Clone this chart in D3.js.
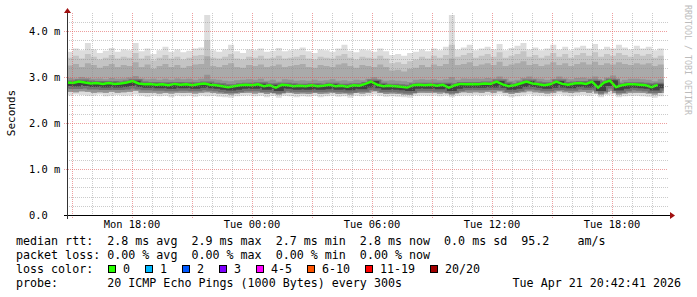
<!DOCTYPE html>
<html><head><meta charset="utf-8">
<script src="https://cdn.jsdelivr.net/npm/d3@7"></script>
<style>
body{margin:0;background:#fff}
svg{display:block}
text{font-family:"DejaVu Sans Mono",monospace}
</style>
</head><body><svg id="c" width="697" height="297"></svg>
<script>
// ---- data ----
const domainStart = new Date(2026,3,20,14,45);
const domainEnd = new Date(2026,3,21,20,45);
const sampleStart = new Date(2026,3,20,14,45);
const stepMinutes = 17.9;

const median = [2.88,2.87,2.90,2.88,2.86,2.87,2.85,2.87,2.85,2.86,
 2.88,2.91,2.86,2.84,2.85,2.83,2.84,2.82,2.85,2.83,
 2.84,2.82,2.84,2.86,2.83,2.82,2.80,2.78,2.80,2.82,
 2.83,2.82,2.84,2.80,2.82,2.77,2.83,2.82,2.80,2.81,
 2.80,2.82,2.80,2.81,2.83,2.80,2.81,2.79,2.82,2.81,
 2.85,2.90,2.83,2.80,2.81,2.80,2.79,2.77,2.82,2.83,
 2.82,2.83,2.81,2.83,2.77,2.82,2.85,2.84,2.85,2.84,
 2.86,2.85,2.90,2.84,2.80,2.82,2.86,2.90,2.86,2.84,
 2.82,2.84,2.90,2.85,2.83,2.86,2.87,2.85,2.90,2.77,
 2.88,2.92,2.78,2.82,2.84,2.84,2.83,2.82,2.78,2.83];

const smokeMax = [3.55,3.62,3.58,3.74,3.60,3.52,3.57,3.63,3.55,3.60,
 3.58,3.74,3.56,3.62,3.50,3.58,3.66,3.55,3.60,3.54,
 3.57,3.62,3.64,4.35,3.58,3.55,3.60,3.70,3.56,3.52,
 3.60,3.58,3.62,3.55,3.57,3.63,3.56,3.58,3.60,3.64,
 3.56,3.52,3.60,3.58,3.55,3.62,3.70,3.57,3.54,3.60,
 3.58,3.55,3.62,3.56,3.48,3.50,3.46,3.52,3.55,3.60,
 3.56,3.62,3.58,3.66,4.35,3.60,3.64,3.70,3.58,3.62,
 3.66,3.60,3.72,3.58,3.63,3.68,3.74,3.60,3.64,3.58,
 3.62,3.70,3.60,3.66,3.58,3.64,3.68,3.62,3.72,3.60,
 3.66,3.62,3.70,3.64,3.60,3.68,3.62,3.66,3.58,3.62];

const smokeUpper2 = [3.42,3.46,3.40,3.50,3.44,3.38,3.42,3.48,3.40,3.44,
 3.42,3.52,3.40,3.46,3.36,3.42,3.48,3.40,3.44,3.38,
 3.42,3.46,3.48,3.80,3.42,3.40,3.44,3.50,3.40,3.38,
 3.44,3.42,3.46,3.40,3.42,3.46,3.40,3.42,3.44,3.48,
 3.40,3.38,3.44,3.42,3.40,3.46,3.50,3.42,3.38,3.44,
 3.42,3.40,3.46,3.40,3.30,3.32,3.28,3.34,3.38,3.44,
 3.40,3.46,3.42,3.48,3.70,3.44,3.48,3.52,3.42,3.46,
 3.50,3.44,3.54,3.42,3.46,3.50,3.56,3.44,3.48,3.42,
 3.46,3.52,3.44,3.50,3.42,3.48,3.52,3.46,3.54,3.44,
 3.50,3.46,3.52,3.48,3.44,3.50,3.46,3.50,3.42,3.46];

const smokeUpper1 = [3.25,3.28,3.22,3.30,3.26,3.20,3.24,3.28,3.22,3.26,
 3.24,3.32,3.22,3.27,3.18,3.24,3.28,3.22,3.26,3.20,
 3.24,3.27,3.28,3.45,3.24,3.22,3.26,3.30,3.22,3.20,
 3.26,3.24,3.27,3.22,3.24,3.27,3.22,3.24,3.26,3.28,
 3.22,3.20,3.26,3.24,3.22,3.27,3.30,3.24,3.20,3.26,
 3.24,3.22,3.27,3.22,3.14,3.16,3.12,3.18,3.20,3.26,
 3.22,3.27,3.24,3.28,3.40,3.26,3.28,3.32,3.24,3.27,
 3.30,3.26,3.33,3.24,3.27,3.30,3.34,3.26,3.28,3.24,
 3.27,3.32,3.26,3.30,3.24,3.28,3.32,3.27,3.33,3.26,
 3.30,3.27,3.32,3.28,3.26,3.30,3.27,3.30,3.24,3.27];

const smokeDarkTop = [2.98,2.97,3.00,2.98,2.96,2.97,2.95,2.98,2.96,2.97,
 2.99,3.02,2.97,2.95,2.96,2.94,2.96,2.94,2.97,2.95,
 2.96,2.94,2.96,3.05,2.95,2.94,2.92,2.91,2.93,2.94,
 2.95,2.94,2.96,2.92,2.94,2.90,2.95,2.94,2.92,2.93,
 2.92,2.94,2.92,2.93,2.95,2.92,2.93,2.91,2.94,2.93,
 2.96,3.00,2.94,2.92,2.93,2.92,2.91,2.89,2.94,2.95,
 2.94,2.95,2.93,2.95,3.00,2.94,2.97,2.96,2.97,2.96,
 2.98,2.97,3.01,2.96,2.92,2.94,2.98,3.01,2.97,2.96,
 2.94,2.96,3.01,2.97,2.95,2.98,2.99,2.97,3.01,2.90,
 2.99,3.03,2.90,2.94,2.96,2.96,2.95,2.94,2.91,2.95];

const smokeLower1 = [2.68,2.67,2.69,2.68,2.66,2.67,2.66,2.68,2.66,2.67,
 2.68,2.70,2.66,2.65,2.66,2.64,2.65,2.64,2.66,2.65,
 2.66,2.64,2.66,2.67,2.65,2.64,2.63,2.62,2.64,2.65,
 2.66,2.64,2.66,2.63,2.65,2.62,2.66,2.65,2.63,2.64,
 2.63,2.65,2.63,2.64,2.66,2.63,2.64,2.62,2.65,2.64,
 2.66,2.69,2.65,2.63,2.64,2.63,2.62,2.61,2.65,2.66,
 2.65,2.66,2.64,2.66,2.62,2.65,2.67,2.66,2.67,2.66,
 2.68,2.66,2.69,2.66,2.63,2.65,2.67,2.69,2.67,2.66,
 2.64,2.66,2.69,2.67,2.65,2.67,2.68,2.66,2.69,2.62,
 2.68,2.70,2.62,2.64,2.66,2.66,2.65,2.64,2.62,2.65];

const smokeMin = [2.60,2.62,2.61,2.59,2.60,2.62,2.58,2.60,2.61,2.59,
 2.60,2.62,2.59,2.57,2.60,2.58,2.59,2.56,2.60,2.58,
 2.59,2.57,2.60,2.58,2.59,2.57,2.56,2.55,2.58,2.59,
 2.60,2.58,2.59,2.56,2.59,2.55,2.59,2.58,2.56,2.58,
 2.57,2.59,2.56,2.58,2.60,2.57,2.58,2.55,2.59,2.58,
 2.60,2.62,2.59,2.57,2.58,2.57,2.56,2.55,2.59,2.60,
 2.59,2.60,2.58,2.60,2.56,2.59,2.60,2.60,2.61,2.59,
 2.61,2.60,2.62,2.59,2.56,2.58,2.60,2.62,2.60,2.59,
 2.58,2.59,2.62,2.60,2.58,2.60,2.61,2.59,2.62,2.56,
 2.61,2.62,2.56,2.58,2.59,2.59,2.58,2.57,2.55,2.58];

const yTickValues = [0,1,2,3,4];
const yTickLabels = ["0.0","1.0 m","2.0 m","3.0 m","4.0 m"];
const yAxisTitle = "Seconds";
const xLabelFormat = "%a %H:%M";
const legendLines = [
  "median rtt:  2.8 ms avg  2.9 ms max  2.7 ms min  2.8 ms now  0.0 ms sd  95.2    am/s",
  "packet loss: 0.00 % avg  0.00 % max  0.00 % min  0.00 % now"
];
const lossTitle = "loss color:";
const lossLabels = ["0","1","2","3","4-5","6-10","11-19","20/20"];
const lossColors = ["#26ff00","#00b8ff","#0059ff","#7e00ff","#ff00ff","#ff5500","#ff0000","#a10000"];
const probeLine = "probe:       20 ICMP Echo Pings (1000 Bytes) every 300s";
const timestamp = "Tue Apr 21 20:42:41 2026";
const watermark = "RRDTOOL / TOBI OETIKER";

// ---- drawing ----
const svg = d3.select("#c");
const x = d3.scaleTime().domain([domainStart, domainEnd]).range([67, 667]);
const y = d3.scaleLinear().domain([0, 4]).range([215, 31]);
const plotTop = 13;
const yTop = y.invert(plotTop);

const n = median.length;
const times = d3.range(n + 1).map(i => new Date(sampleStart.getTime() + i * stepMinutes * 60000));
const ext = arr => arr.concat([arr[arr.length - 1]]);
const rows = times.map((t, i) => ({
  t,
  max: ext(smokeMax)[i], u2: ext(smokeUpper2)[i], u1: ext(smokeUpper1)[i],
  dt: ext(smokeDarkTop)[i], med: ext(median)[i], l1: ext(smokeLower1)[i], min: ext(smokeMin)[i]
}));

svg.append("defs").append("clipPath").attr("id", "clip")
  .append("rect").attr("x", 67).attr("y", plotTop).attr("width", 597).attr("height", 215 - plotTop);

const g = svg.append("g").attr("clip-path", "url(#clip)");
const band = (lo, hi) => d3.area().curve(d3.curveStepAfter)
  .x(d => x(d.t)).y0(d => y(d[lo])).y1(d => y(d[hi]));

g.append("path").datum(rows).attr("d", band("min", "max")).attr("fill", "#dddddd");
g.append("path").datum(rows).attr("d", band("l1", "u2")).attr("fill", "#c4c4c4");
g.append("path").datum(rows).attr("d", band("l1", "u1")).attr("fill", "#aaaaaa");
g.append("path").datum(rows).attr("d", band("l1", "dt")).attr("fill", "#939393");

const medStep = d3.line().curve(d3.curveStepAfter).x(d => x(d.t)).y(d => y(d.med));
const medLine = d3.line().curve(d3.curveLinear).x(d => x(d.t)).y(d => y(d.med));
g.append("path").datum(rows).attr("d", medStep).attr("fill", "none")
  .attr("stroke", "#555").attr("stroke-width", 8).attr("opacity", 0.55)
  .attr("transform", "translate(0,2)");
g.append("path").datum(rows).attr("d", medStep).attr("fill", "none")
  .attr("stroke", "#2e2e2e").attr("stroke-width", 4).attr("opacity", 0.7)
  .attr("transform", "translate(0,1.5)");

// grid
const grid = svg.append("g");
const hours = d3.timeHour.range(domainStart, domainEnd);
hours.forEach(h => {
  const major = h.getHours() % 3 === 0;
  const xx = Math.round(x(h)) + 0.5;
  grid.append("line").attr("x1", xx).attr("x2", xx).attr("y1", plotTop).attr("y2", major ? 218 : 215)
    .attr("stroke", major ? "rgba(222,80,80,0.55)" : "rgba(140,140,140,0.45)")
    .attr("stroke-dasharray", "1,1");
});
d3.range(1, 23).map(k => k * 0.2).filter(v => v <= yTop).forEach(v => {
  const major = Math.abs(v - Math.round(v)) < 1e-6;
  const yy = Math.round(y(v)) + 0.5;
  grid.append("line").attr("x1", major ? 64 : 67).attr("x2", 668).attr("y1", yy).attr("y2", yy)
    .attr("stroke", major ? "rgba(222,80,80,0.55)" : "rgba(140,140,140,0.45)")
    .attr("stroke-dasharray", "1,1");
});

// median green line
g.append("path").datum(rows.slice(0, n)).attr("d", medLine).attr("fill", "none")
  .attr("stroke", lossColors[0]).attr("stroke-width", 2.5).attr("stroke-linejoin", "miter");

// axes
svg.append("line").attr("x1", 64).attr("x2", 670).attr("y1", 215.5).attr("y2", 215.5)
  .attr("stroke", "#000").attr("stroke-width", 1);
svg.append("path").attr("d", "M670,212L675,215.5L670,219Z").attr("fill", "#a01010");
svg.append("line").attr("x1", 67.5).attr("x2", 67.5).attr("y1", 219).attr("y2", 12)
  .attr("stroke", "#333").attr("stroke-width", 1);
svg.append("path").attr("d", "M64,13L67.5,8L71,13Z").attr("fill", "#a01010");

// y labels
yTickValues.forEach((v, i) => {
  svg.append("text").attr("x", 29).attr("y", y(v) + 3.5)
    .attr("font-size", "10.4px").attr("fill", "#000").text(yTickLabels[i]);
});
// x labels
const fmt = d3.timeFormat(xLabelFormat);
hours.filter(h => h.getHours() % 6 === 0).forEach(h => {
  svg.append("text").attr("x", x(h)).attr("y", 228).attr("text-anchor", "middle")
    .attr("font-size", "10.4px").attr("fill", "#000").text(fmt(h));
});
// y title
svg.append("text").attr("transform", "translate(15,113) rotate(-90)").attr("text-anchor", "middle")
  .attr("font-size", "11px").attr("fill", "#000").text(yAxisTitle);
// watermark
svg.append("text").attr("transform", "translate(685,5) rotate(90)")
  .attr("font-size", "8.3px").attr("fill", "#bcbcbc").text(watermark);

// legend
const lf = "11.66px";
legendLines.forEach((s, i) => {
  svg.append("text").attr("x", 16).attr("y", 245 + i * 14).attr("font-size", lf)
    .style("white-space", "pre").text(s);
});
svg.append("text").attr("x", 16).attr("y", 273).attr("font-size", lf).text(lossTitle);
let bx = 108.5;
lossLabels.forEach((lab, i) => {
  svg.append("rect").attr("x", bx).attr("y", 265.5).attr("width", 7).attr("height", 7)
    .attr("fill", lossColors[i]).attr("stroke", "#000").attr("stroke-width", 1);
  const t = svg.append("text").attr("x", bx + 14.5).attr("y", 273).attr("font-size", lf).text(lab);
  bx = bx + 14.5 + t.node().getComputedTextLength() + 15;
  bx = Math.round(bx - 0.5) + 0.5;
});
svg.append("text").attr("x", 16).attr("y", 287).attr("font-size", lf)
  .style("white-space", "pre").text(probeLine);
svg.append("text").attr("x", 681).attr("y", 287).attr("font-size", lf).attr("text-anchor", "end")
  .text(timestamp);
</script>
</body></html>
